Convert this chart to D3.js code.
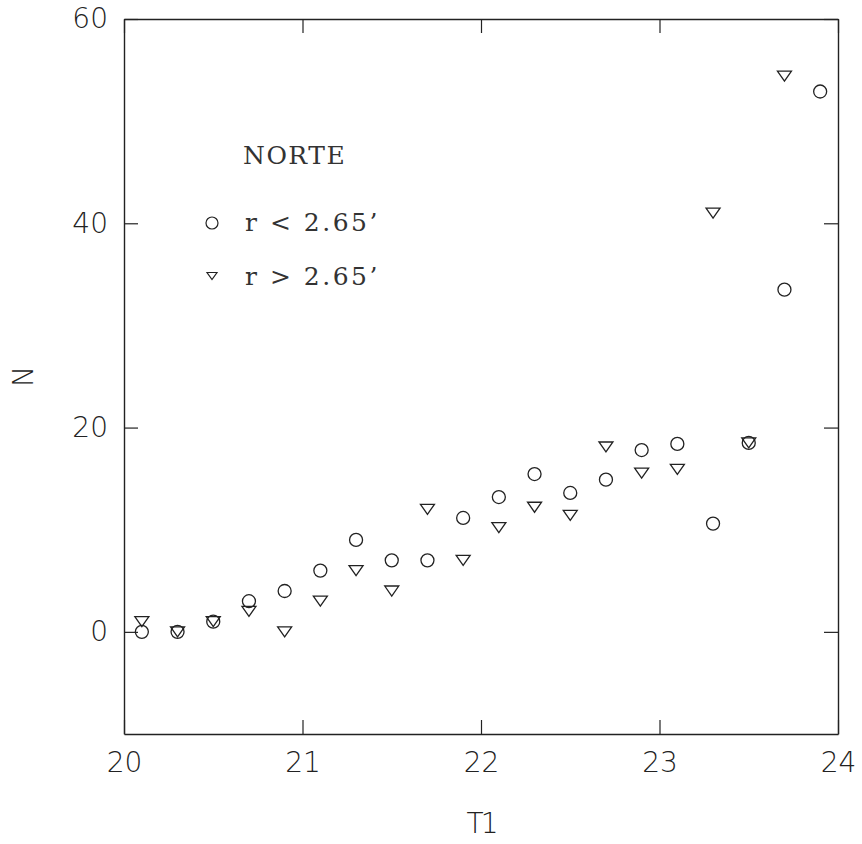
<!DOCTYPE html>
<html>
<head>
<meta charset="utf-8">
<script src="https://cdn.jsdelivr.net/npm/d3@7"></script>
<style>
  html, body { margin: 0; padding: 0; background: #fff; }
  svg { display: block; }
  .tick text, .axis-title { font-family: "DejaVu Sans ExtraLight", "DejaVu Sans", sans-serif; font-weight: 200; font-size: 28px; fill: #222; }
  .legend { font-family: "DejaVu Serif", "Liberation Serif", serif; font-size: 25px; fill: #333; }
</style>
</head>
<body>
<svg id="chart" width="862" height="844"></svg>
<script>
// Magnitude bins (T1) and star counts in the two radial zones of the northern field
const magnitudes = [20.1, 20.3, 20.5, 20.7, 20.9, 21.1, 21.3, 21.5, 21.7, 21.9,
                    22.1, 22.3, 22.5, 22.7, 22.9, 23.1, 23.3, 23.5, 23.7, 23.9];
const countsInner = [0, 0, 1, 3, 4, 6, 9, 7, 7, 11.15,
                     13.2, 15.45, 13.6, 14.9, 17.8, 18.4, 10.6, 18.5, 33.5, 52.9];
const countsOuter = [1, 0, 1, 2, 0, 3, 6, 4, 12, 7,
                     10.2, 12.2, 11.4, 18.1, 15.55, 15.9, 41.0, 18.5, 54.4, null];

const xTicks = [20, 21, 22, 23, 24];
const yTicks = [0, 20, 40, 60];
const title = "NORTE";
const legendLabels = ["r < 2.65\u2019", "r > 2.65\u2019"];

const svg = d3.select("#chart");
const plotLeft = 124, plotRight = 838, plotTop = 19, plotBottom = 734;

const x = d3.scaleLinear().domain([20, 24]).range([plotLeft, plotRight]);
const y = d3.scaleLinear().domain([-10, 60]).range([plotBottom, plotTop]);

const ink = "#222";
const tickLen = 14;

function styleAxis(g) {
  g.selectAll("path.domain").attr("stroke", ink).attr("stroke-width", 1.4);
  g.selectAll(".tick line").attr("stroke", ink).attr("stroke-width", 1.2);
  g.attr("font-family", null).attr("font-size", null);
}

svg.append("g").attr("transform", `translate(0,${plotBottom})`)
  .call(d3.axisBottom(x).tickValues(xTicks).tickSizeInner(-tickLen).tickSizeOuter(0).tickPadding(18).tickFormat(d3.format("d")))
  .call(styleAxis);
svg.append("g").attr("transform", `translate(0,${plotTop})`)
  .call(d3.axisTop(x).tickValues(xTicks).tickSizeInner(-tickLen).tickSizeOuter(0).tickFormat(""))
  .call(styleAxis);
svg.append("g").attr("transform", `translate(${plotLeft},0)`)
  .call(d3.axisLeft(y).tickValues(yTicks).tickSizeInner(-tickLen).tickSizeOuter(0).tickPadding(16).tickFormat(d3.format("d")))
  .call(styleAxis);
svg.append("g").attr("transform", `translate(${plotRight},0)`)
  .call(d3.axisRight(y).tickValues(yTicks).tickSizeInner(-tickLen).tickSizeOuter(0).tickFormat(""))
  .call(styleAxis);

// Axis titles
svg.append("text").attr("class", "axis-title")
  .attr("x", (plotLeft + plotRight) / 2).attr("y", 833)
  .attr("text-anchor", "middle").attr("letter-spacing", "-3px").text("T1");
svg.append("text").attr("class", "axis-title")
  .attr("transform", `translate(33,${(plotTop + plotBottom) / 2}) rotate(-90)`)
  .attr("text-anchor", "middle").text("N");

// Marker shapes
const circleR = 6.5;
function triPath(w, h) {
  return `M${-w / 2},${-h / 2} L${w / 2},${-h / 2} L0,${h / 2} Z`;
}

const inner = magnitudes.map((m, i) => ({ m, n: countsInner[i] })).filter(d => d.n != null);
const outer = magnitudes.map((m, i) => ({ m, n: countsOuter[i] })).filter(d => d.n != null);

svg.append("g").selectAll("circle").data(inner).join("circle")
  .attr("cx", d => x(d.m)).attr("cy", d => y(d.n)).attr("r", circleR)
  .attr("fill", "none").attr("stroke", ink).attr("stroke-width", 1.3);

svg.append("g").selectAll("path").data(outer).join("path")
  .attr("d", triPath(14, 10))
  .attr("transform", d => `translate(${x(d.m)},${y(d.n)})`)
  .attr("fill", "none").attr("stroke", ink).attr("stroke-width", 1.3).attr("stroke-linejoin", "miter");

// Legend
const lg = svg.append("g");
lg.append("text").attr("class", "legend").attr("x", 243).attr("y", 164)
  .attr("letter-spacing", "1.5px").text(title);
lg.append("circle").attr("cx", 212).attr("cy", 223).attr("r", 6)
  .attr("fill", "none").attr("stroke", ink).attr("stroke-width", 1.2);
lg.append("text").attr("class", "legend").attr("x", 245).attr("y", 231)
  .attr("letter-spacing", "2.5px").attr("xml:space", "preserve").text(legendLabels[0]);
lg.append("path").attr("d", triPath(10, 7)).attr("transform", "translate(212,276)")
  .attr("fill", "none").attr("stroke", ink).attr("stroke-width", 1.2);
lg.append("text").attr("class", "legend").attr("x", 245).attr("y", 285)
  .attr("letter-spacing", "2.5px").attr("xml:space", "preserve").text(legendLabels[1]);
</script>
</body>
</html>
